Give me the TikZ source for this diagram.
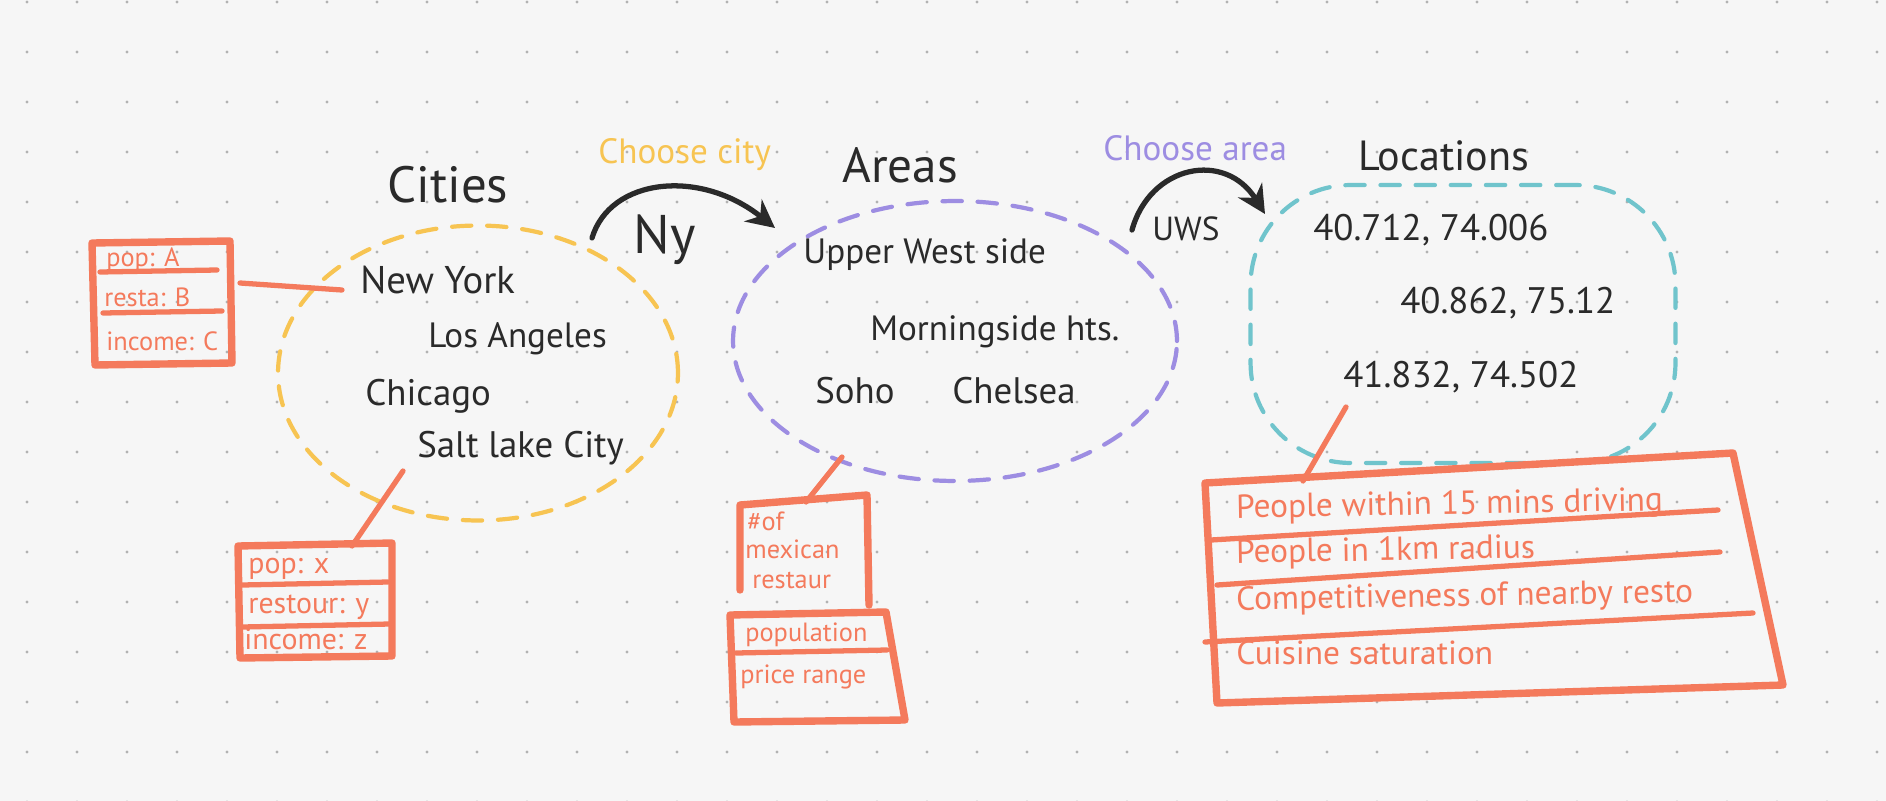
\documentclass[tikz,border=0pt]{standalone}
\usepackage{fontspec}
\setmainfont{PT Sans}
\usetikzlibrary{arrows.meta,shapes.geometric}
\definecolor{bg}{RGB}{246,246,246}
\definecolor{dotc}{RGB}{178,178,178}
\definecolor{ink}{RGB}{42,42,42}
\definecolor{orng}{RGB}{244,122,92}
\definecolor{ylw}{RGB}{247,196,82}
\definecolor{prp}{RGB}{157,141,226}
\definecolor{tel}{RGB}{112,196,204}
\newcommand{\fsz}[1]{\fontsize{#1pt}{#1pt}\selectfont}
\begin{document}
\begin{tikzpicture}[x=0.02cm,y=-0.02cm,
  txt/.style={inner sep=0pt, anchor=base west, text=ink},
  otxt/.style={inner sep=0pt, anchor=base west, text=orng},
  obox/.style={draw=orng, line width=4.2pt, line cap=round, line join=round},
  oline/.style={draw=orng, line width=3pt, line cap=round},
  conn/.style={draw=orng, line width=3pt, line cap=round},
  arr/.style={draw=ink, line width=3pt, line cap=round, -{Stealth[length=16pt,width=16pt]}},
  dashy/.style={line width=2.4pt, dash pattern=on 11pt off 9pt, line cap=round},
]
\path[use as bounding box, fill=bg] (0,0) rectangle (1886,801);
% dot grid
\foreach \i in {0,...,37}{\foreach \j in {0,...,16}{\fill[dotc] (27+50*\i,2+50*\j) circle[radius=1.7];}}

% ---------- Cities ----------
\node[txt, font=\fsz{29}] (tcities) at (387,202) {Cities};
\node[ellipse, draw=ylw, dashy, minimum width=8cm, minimum height=5.9cm, inner sep=0pt] (cityset) at (478,373) {};
\node[txt, font=\fsz{22}] (nyc) at (360,293) {New York};
\node[txt, font=\fsz{20}] (la) at (428,347) {Los Angeles};
\node[txt, font=\fsz{21}] (chi) at (365,405) {Chicago};
\node[txt, font=\fsz{21}] (slc) at (417,457) {Salt lake City};

% left box
\draw[obox] (92,243) -- (230,241) -- (232,363) -- (95,365) -- cycle;
\draw[oline] (100,272) -- (217,270);
\draw[oline] (103,313) -- (222,311);
\node[otxt, font=\fsz{15}] (lb1) at (106,266) {pop: A};
\node[otxt, font=\fsz{15}] (lb2) at (104,306) {resta: B};
\node[otxt, font=\fsz{15}] (lb3) at (106,350) {income: C};
\coordinate (lboxE) at (240,283);
\coordinate (nycL) at (342,290);
\draw[conn] (lboxE) -- (nycL);

% bottom-left box
\draw[obox] (238,546) -- (392,543) -- (392,656) -- (240,658) -- cycle;
\draw[oline] (242,585) -- (388,582);
\draw[oline] (242,627) -- (390,624);
\node[otxt, font=\fsz{17}] (bb1) at (248,573) {pop: x};
\node[otxt, font=\fsz{17}] (bb2) at (248,613) {restour: y};
\node[otxt, font=\fsz{17}] (bb3) at (244,649) {income: z};
\coordinate (slcB) at (403,471);
\coordinate (bboxT) at (352,546);
\draw[conn] (slcB) -- (bboxT);

% ---------- Choose city arrow ----------
\node[inner sep=0pt, anchor=base west, text=ylw, font=\fsz{20}] (lcity) at (598,163) {Choose city};
\coordinate (a1s) at (592,238);
\coordinate (a1e) at (775,228);
\draw[arr] (a1s) .. controls (610,178) and (700,168) .. (a1e);
\node[txt, font=\fsz{31}] (lny) at (633,253) {Ny};

% ---------- Areas ----------
\node[txt, font=\fsz{28}] (tareas) at (842,182) {Areas};
\node[ellipse, draw=prp, dashy, minimum width=8.88cm, minimum height=5.6cm, inner sep=0pt] (areaset) at (955,341) {};
\node[txt, font=\fsz{20}] (uws) at (803,263) {Upper West side};
\node[txt, font=\fsz{20}] (ms) at (870,340) {Morningside hts.};
\node[txt, font=\fsz{21}] (soho) at (815,403) {Soho};
\node[txt, font=\fsz{21}] (chel) at (952,403) {Chelsea};

% middle box
\draw[obox] (740,590) -- (740,505) -- (867,495) -- (869,605);
\draw[obox] (730,615) -- (886,612) -- (905,720) -- (734,722) -- cycle;
\draw[oline] (736,653) -- (887,650);
\node[otxt, font=\fsz{15}] (mb1) at (747,530) {\#of};
\node[otxt, font=\fsz{15}] (mb2) at (745,558) {mexican};
\node[otxt, font=\fsz{15}] (mb3) at (752,588) {restaur};
\node[otxt, font=\fsz{15}] (mb4) at (745,641) {population};
\node[otxt, font=\fsz{15}] (mb5) at (740,683) {price range};
\coordinate (areaB) at (842,457);
\coordinate (mboxT) at (806,502);
\draw[conn] (areaB) -- (mboxT);

% ---------- Choose area arrow ----------
\node[inner sep=0pt, anchor=base west, text=prp, font=\fsz{20}] (larea) at (1103,160) {Choose area};
\coordinate (a2s) at (1132,230);
\coordinate (a2e) at (1265,214);
\draw[arr] (a2s) .. controls (1150,165) and (1225,150) .. (a2e);
\node[txt, font=\fsz{19}] (luws) at (1152,240) {UWS};

% ---------- Locations ----------
\node[txt, font=\fsz{24}] (tloc) at (1358,170) {Locations};
\node[rectangle, rounded corners=2cm, draw=tel, dashy, minimum width=8.5cm, minimum height=5.56cm, inner sep=0pt] (locset) at (1463,324) {};
\node[txt, font=\fsz{21}] (loc1) at (1313,240) {40.712, 74.006};
\node[txt, font=\fsz{21}] (loc2) at (1400,313) {40.862, 75.12};
\node[txt, font=\fsz{21}] (loc3) at (1343,387) {41.832, 74.502};

% big box
\draw[obox] (1205,483) -- (1733,453) -- (1783,685) -- (1217,703) -- cycle;
\draw[oline] (1211,540) -- (1718,510);
\draw[oline] (1217,585) -- (1720,552);
\draw[oline] (1205,642) -- (1753,613);
\node[otxt, font=\fsz{19}, rotate=1] (bg1) at (1236,518) {People within 15 mins driving};
\node[otxt, font=\fsz{19}, rotate=1] (bg2) at (1236,563) {People in 1km radius};
\node[otxt, font=\fsz{19}, rotate=1] (bg3) at (1236,610) {Competitiveness of nearby resto};
\node[otxt, font=\fsz{19}] (bg4) at (1236,664) {Cuisine saturation};
\coordinate (locB) at (1346,407);
\coordinate (bigT) at (1303,481);
\draw[conn] (locB) -- (bigT);
\end{tikzpicture}
\end{document}
